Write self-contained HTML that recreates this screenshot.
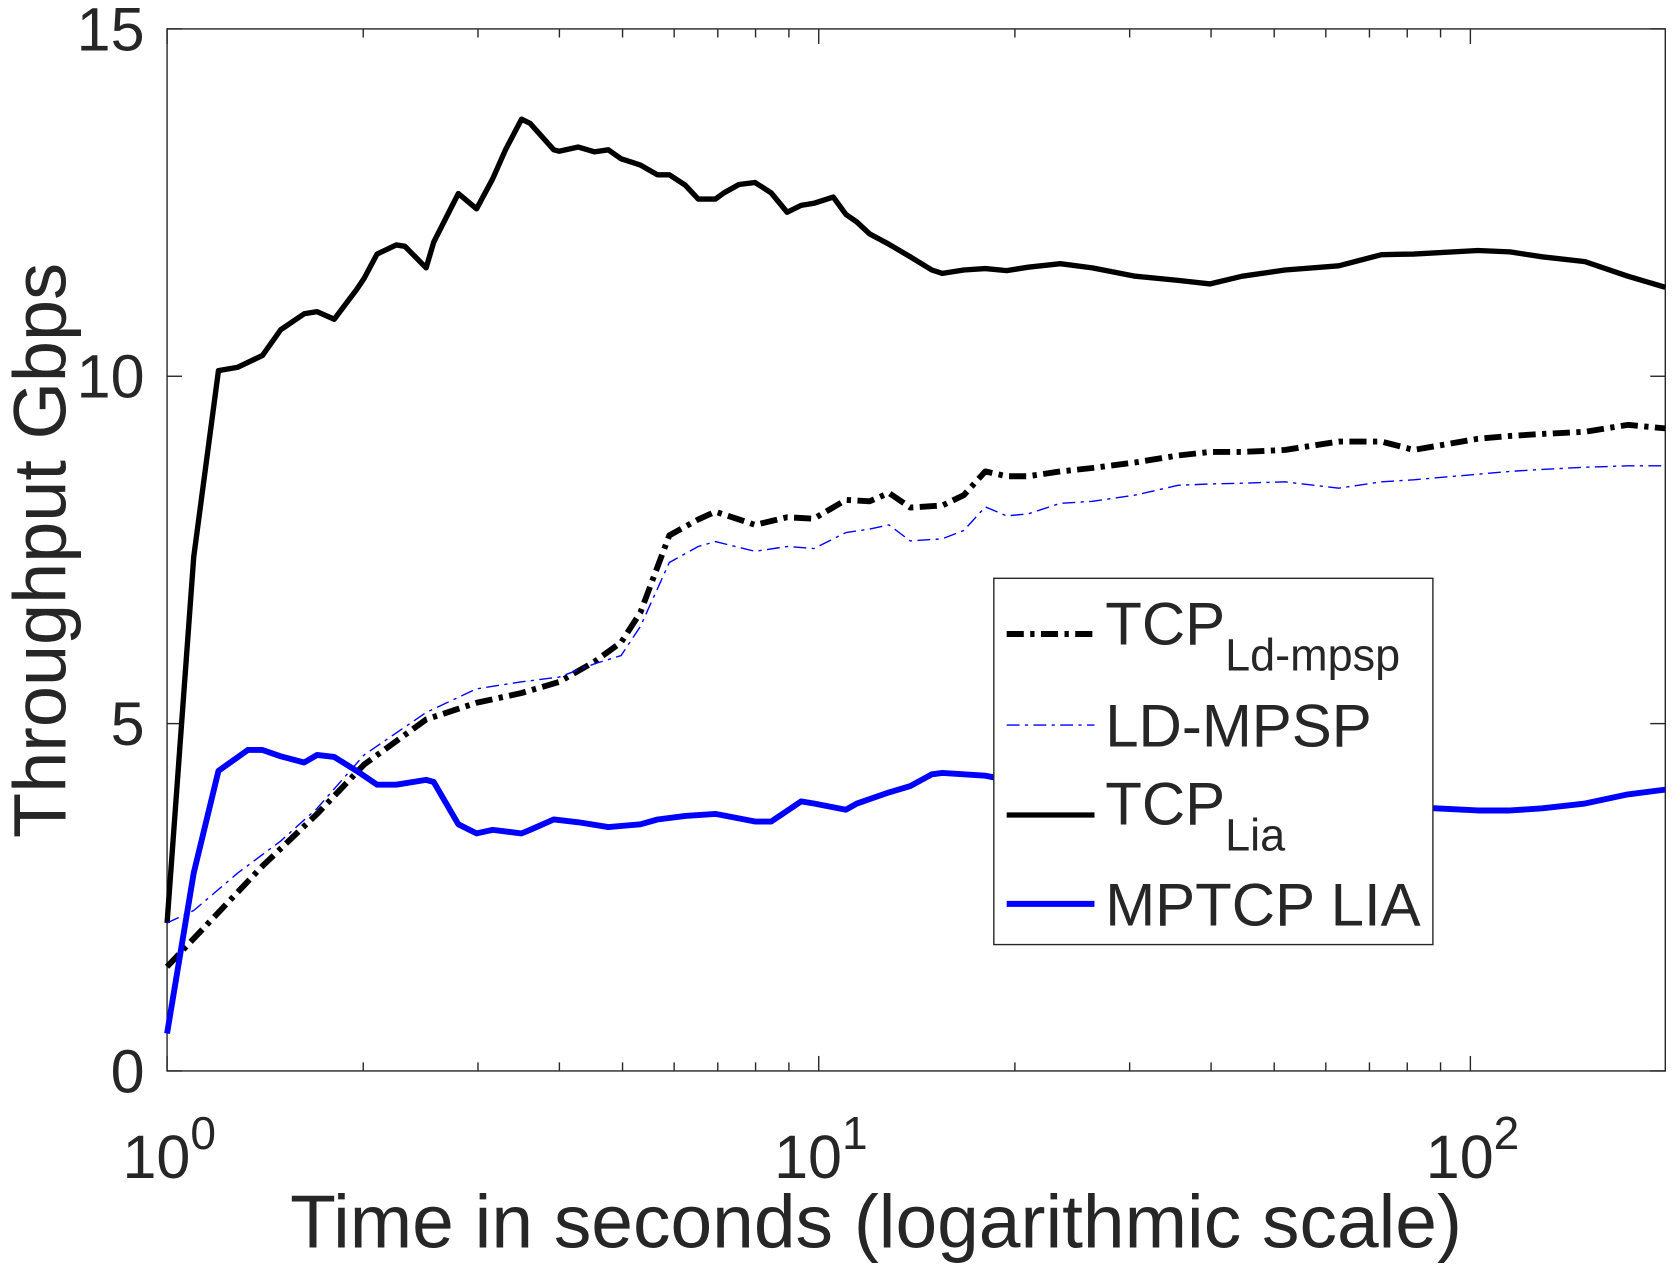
<!DOCTYPE html>
<html><head><meta charset="utf-8"><style>
html,body{margin:0;padding:0;background:#fff;}
svg{display:block;font-family:"Liberation Sans",sans-serif;}
</style></head><body>
<svg id="chart" width="1676" height="1271" viewBox="0 0 1565 1186.8" preserveAspectRatio="none" xmlns="http://www.w3.org/2000/svg">
<g id="axes"></g>
<g id="series"></g>
<g id="legend">
<rect x="928" y="540" width="410" height="342" fill="#fff" stroke="#262626" stroke-width="1.3"/>
<line x1="940" y1="592" x2="1022" y2="592" stroke="#000" stroke-width="5.5" stroke-dasharray="16,6,4,6"/>
<text x="1032" y="602" font-size="56" fill="#262626">TCP<tspan font-size="42" dy="24">Ld-mpsp</tspan></text>
<line x1="940" y1="677" x2="1022" y2="677" stroke="#0000ff" stroke-width="1.3" stroke-dasharray="12,5,3,5"/>
<text x="1032" y="697" font-size="56" fill="#262626">LD-MPSP</text>
<line x1="940" y1="761" x2="1022" y2="761" stroke="#000" stroke-width="5"/>
<text x="1032" y="770" font-size="56" fill="#262626">TCP<tspan font-size="42" dy="24">Lia</tspan></text>
<line x1="940" y1="844" x2="1022" y2="844" stroke="#0000ff" stroke-width="5.5"/>
<text x="1032" y="864" font-size="56" fill="#262626">MPTCP LIA</text>
</g>
</svg>
<script>
const lia_x=[1.00,1.099,1.199,1.284,1.401,1.494,1.623,1.699,1.805,1.954,2.006,2.100,2.247,2.317,2.498,2.566,2.799,2.985,3.159,3.306,3.499,3.607,3.921,3.996,4.277,4.526,4.755,4.975,5.326,5.657,5.898,6.243,6.534,6.940,7.154,7.544,7.985,8.452,8.944,9.395,9.831,10.53,11.01,11.44,11.97,12.82,13.82,14.91,15.48,16.70,18.01,19.43,20.96,23.48,26.30,30.59,35.59,39.87,44.67,51.97,62.80,73.04,81.83,102.7,115.0,128.9,149.9,174.4,199.1];
const lia_y=[2.13,7.40,10.08,10.13,10.30,10.67,10.90,10.93,10.82,11.25,11.41,11.76,11.89,11.87,11.56,11.93,12.63,12.41,12.84,13.26,13.70,13.64,13.26,13.24,13.30,13.23,13.26,13.13,13.04,12.90,12.90,12.75,12.55,12.55,12.64,12.76,12.79,12.64,12.36,12.46,12.49,12.58,12.33,12.22,12.05,11.90,11.72,11.53,11.48,11.53,11.55,11.52,11.57,11.62,11.56,11.44,11.38,11.33,11.44,11.53,11.59,11.75,11.76,11.81,11.79,11.72,11.65,11.44,11.28];
const ldt_x=[1.00,1.401,1.699,2.006,2.498,2.985,3.499,3.996,4.526,4.975,5.326,5.898,6.534,6.940,7.544,7.985,8.944,9.831,11.01,11.97,12.82,13.82,15.48,16.70,18.01,19.43,20.96,23.48,26.30,30.59,35.59,39.87,44.67,51.97,62.80,73.04,81.83,102.7,115.0,128.9,149.9,174.4,199.1];
const ldt_y=[1.50,2.95,3.70,4.41,5.06,5.30,5.44,5.60,5.89,6.17,6.60,7.71,7.94,8.05,7.94,7.86,7.97,7.95,8.22,8.20,8.32,8.11,8.14,8.29,8.63,8.56,8.56,8.63,8.68,8.76,8.86,8.91,8.91,8.94,9.06,9.06,8.94,9.10,9.14,9.17,9.20,9.30,9.25];
const ldm_x=[1.00,1.099,1.284,1.494,1.699,2.006,2.498,2.985,3.499,3.996,4.526,4.975,5.326,5.898,6.534,6.940,7.985,8.944,9.831,11.01,11.97,12.82,13.82,15.48,16.70,18.01,19.43,20.96,23.48,26.30,30.59,35.59,39.87,44.67,51.97,62.80,73.04,81.83,102.7,115.0,128.9,149.9,174.4,199.1];
const ldm_y=[2.13,2.31,2.85,3.31,3.78,4.55,5.16,5.50,5.60,5.67,5.86,5.98,6.40,7.32,7.55,7.62,7.48,7.55,7.52,7.75,7.80,7.86,7.63,7.66,7.78,8.12,7.99,8.02,8.17,8.20,8.29,8.43,8.45,8.46,8.48,8.39,8.48,8.51,8.59,8.63,8.66,8.69,8.71,8.71];
const mp_x=[1.00,1.099,1.199,1.33,1.401,1.494,1.623,1.699,1.805,1.954,2.100,2.247,2.498,2.566,2.799,2.985,3.159,3.499,3.607,3.921,4.277,4.755,5.326,5.657,6.243,6.940,7.985,8.452,9.395,9.831,11.01,11.44,12.82,13.82,14.91,15.48,18.01,19.43,25.0,36.0,50.0,73.0,102.7,115.0,128.9,149.9,174.4,199.1];
const mp_y=[0.54,2.85,4.32,4.62,4.62,4.53,4.44,4.55,4.52,4.32,4.12,4.12,4.19,4.16,3.55,3.42,3.47,3.42,3.47,3.62,3.58,3.51,3.55,3.62,3.67,3.70,3.59,3.59,3.88,3.85,3.76,3.85,4.01,4.10,4.27,4.29,4.25,4.19,4.09,3.98,3.88,3.82,3.75,3.75,3.78,3.85,3.98,4.05];
const yTicks=[0,5,10,15];
const xDecades=[0,1,2];

const X0=156,X1=1555,Y0=1000,Y1=27,PPD=608.5,XMAX=Math.pow(10,(X1-X0)/PPD);
const sx=v=>X0+Math.log10(v)*PPD;
const sy=v=>Y0-(v/15)*(Y0-Y1);
const NS="http://www.w3.org/2000/svg";
function mk(tag,attrs,parent){const e=document.createElementNS(NS,tag);for(const k in attrs)e.setAttribute(k,attrs[k]);parent.appendChild(e);return e;}
const axes=document.getElementById('axes'),ser=document.getElementById('series');
const C="#262626";
const box=mk('rect',{x:X0,y:Y1,width:X1-X0,height:Y0-Y1,fill:'none',stroke:C,'stroke-width':1.3},axes);


yTicks.forEach(t=>{
 const y=sy(t);
 const l1=mk('line',{x1:X0,y1:y,x2:X0+14,y2:y,stroke:C,'stroke-width':1.3},axes);
 
 
 const l2=mk('line',{x1:X1,y1:y,x2:X1-14,y2:y,stroke:C,'stroke-width':1.3},axes);
 
 
 const tx=mk('text',{x:135,y:y+20,'font-size':57,fill:C,'text-anchor':'end'},axes);
 tx.textContent=String(t);
 
 
});
for(let d=0;d<=2;d++){for(let m=1;m<=9;m++){
 const v=m*Math.pow(10,d); if(v>XMAX)break;
 const x=sx(v), len=m===1?14:8;
 const a=mk('line',{x1:x,y1:Y0,x2:x,y2:Y0-len,stroke:C,'stroke-width':1.3},axes);
 
 
 const b=mk('line',{x1:x,y1:Y1,x2:x,y2:Y1+len,stroke:C,'stroke-width':1.3},axes);
 
 
}}
xDecades.forEach(d=>{
 const x=sx(Math.pow(10,d));
 const t=mk('text',{x:x+2,y:1100,'font-size':57,fill:C,'text-anchor':'middle'},axes);
 t.innerHTML='10<tspan font-size="43" dy="-27">'+d+'</tspan>';
 
 
});
const xl=mk('text',{x:818,y:1165,'font-size':70,fill:C,'text-anchor':'middle'},axes);
xl.textContent='Time in seconds (logarithmic scale)';


const yl=mk('text',{x:0,y:0,'font-size':69,fill:C,'text-anchor':'middle',transform:'translate(61,514) rotate(-90)'},axes);
yl.textContent='Throughput Gbps';


function series(xs,ys,attrs,name){
 const d=xs.map((v,i)=>(i?'L':'M')+sx(v).toFixed(1)+','+sy(ys[i]).toFixed(1)).join('');
 const p=mk('path',Object.assign({d:d,fill:'none','stroke-linejoin':'round'},attrs),ser);
 
 
}
series(lia_x,lia_y,{stroke:'#000','stroke-width':5},'tcp-lia-line');
series(ldt_x,ldt_y,{stroke:'#000','stroke-width':5.5,'stroke-dasharray':'16,6,4,6'},'tcp-ld-mpsp-line');
series(ldm_x,ldm_y,{stroke:'#0000ff','stroke-width':1.3,'stroke-dasharray':'12,5,3,5'},'ld-mpsp-line');
series(mp_x,mp_y,{stroke:'#0000ff','stroke-width':5.5},'mptcp-lia-line');
document.getElementById('chart').appendChild(document.getElementById('legend'));
</script>
</body></html>
